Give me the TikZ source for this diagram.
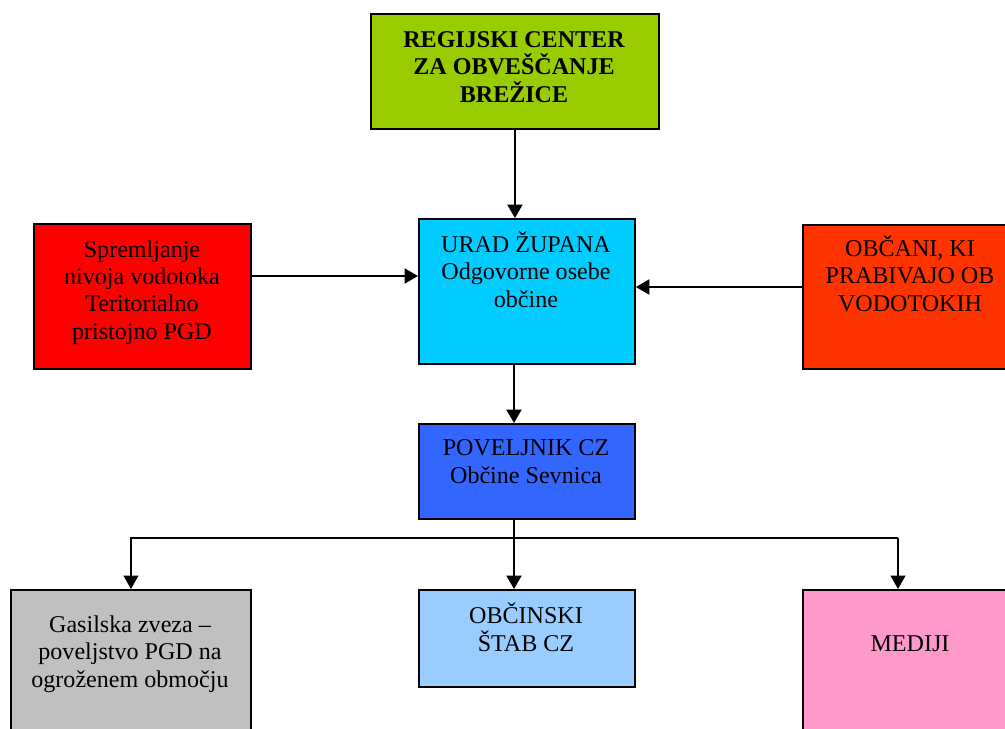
\documentclass[tikz,border=0pt]{standalone}
\usepackage{fontspec}
\setmainfont{Liberation Serif}
\usepackage{xcolor}
\usetikzlibrary{arrows.meta,positioning}

\definecolor{centergreen}{HTML}{99CC00}
\definecolor{uradcyan}{HTML}{00CCFF}
\definecolor{pgdred}{HTML}{FF0000}
\definecolor{obcanired}{HTML}{FF3300}
\definecolor{czblue}{HTML}{3366FF}
\definecolor{gzgray}{HTML}{C0C0C0}
\definecolor{stabblue}{HTML}{99CCFF}
\definecolor{medijipink}{HTML}{FF99CC}

\tikzset{
  box/.style={draw=black, line width=1.1pt, inner sep=0pt, anchor=north west},
  txt/.style={align=center, inner sep=0pt, anchor=base,
    font=\fontsize{13.7}{15.5}\selectfont},
  link/.style={line width=1.3pt, -{Triangle[length=0.27cm, width=0.3cm]}},
  fork/.style={line width=0.75pt},
}

\begin{document}
\begin{tikzpicture}[x=0.02cm, y=-0.02cm]

\useasboundingbox (0,0) rectangle (1005,728);

% =====================
% Boxes
% =====================
\node[box, fill=centergreen, minimum width=5.76cm, minimum height=2.3cm]
    (center) at (370,13) {};
\node[box, fill=uradcyan, minimum width=4.32cm, minimum height=2.9cm]
    (urad) at (418,218) {};
\node[box, fill=pgdred, minimum width=4.34cm, minimum height=2.9cm]
    (pgd) at (33,223) {};
\node[box, fill=obcanired, minimum width=4.32cm, minimum height=2.88cm]
    (obcani) at (802,224) {};
\node[box, fill=czblue, minimum width=4.32cm, minimum height=1.9cm]
    (povelj) at (418,423) {};
\node[box, fill=gzgray, minimum width=4.8cm, minimum height=3.2cm]
    (gasil) at (10,589) {};
\node[box, fill=stabblue, minimum width=4.32cm, minimum height=1.94cm]
    (stab) at (418,589) {};
\node[box, fill=medijipink, minimum width=4.32cm, minimum height=3.2cm]
    (mediji) at (802,589) {};

% =====================
% Texts (anchored at the last line)
% =====================
\node[txt, font=\fontsize{13.7}{15.5}\selectfont\bfseries] (centertxt) at (514,102)
    {REGIJSKI CENTER\\ZA OBVEŠČANJE\\BREŽICE};
\node[txt] (uradtxt) at (526,307) {URAD ŽUPANA\\Odgovorne osebe\\občine};
\node[txt] (pgdtxt) at (142,339)
    {Spremljanje\\nivoja vodotoka\\Teritorialno\\pristojno PGD};
\node[txt] (obcanitxt) at (910,311) {OBČANI, KI\\PRABIVAJO OB\\VODOTOKIH};
\node[txt] (poveljtxt) at (526,483) {POVELJNIK CZ\\Občine Sevnica};
\node[txt] (gasiltxt) at (130,687)
    {Gasilska zveza --\\poveljstvo PGD na\\ogroženem območju};
\node[txt] (stabtxt) at (526,651) {OBČINSKI\\ŠTAB CZ};
\node[txt] (medijitxt) at (910,651) {MEDIJI};

% =====================
% Connectors
% =====================
\coordinate (axis) at (514,538);
\coordinate (forkR) at (898,538);

\draw[link] (center.south) -- (center.south |- urad.north);
\draw[link] (pgd.east |- 0,276) -- (urad.west |- 0,276);
\draw[link] (obcani.west |- 0,287) -- (urad.east |- 0,287);
\draw[link] (urad.south -| axis) -- (povelj.north -| axis);
\draw[link] (povelj.south -| axis) -- (stab.north -| axis);

\draw[fork, -{Triangle[length=0.27cm, width=0.3cm]}] (axis) -| (gasil.north);
\draw[fork] (axis) -- (forkR);
\draw[fork, -{Triangle[length=0.27cm, width=0.3cm]}] (forkR) -- (forkR |- mediji.north);

\end{tikzpicture}
\end{document}
